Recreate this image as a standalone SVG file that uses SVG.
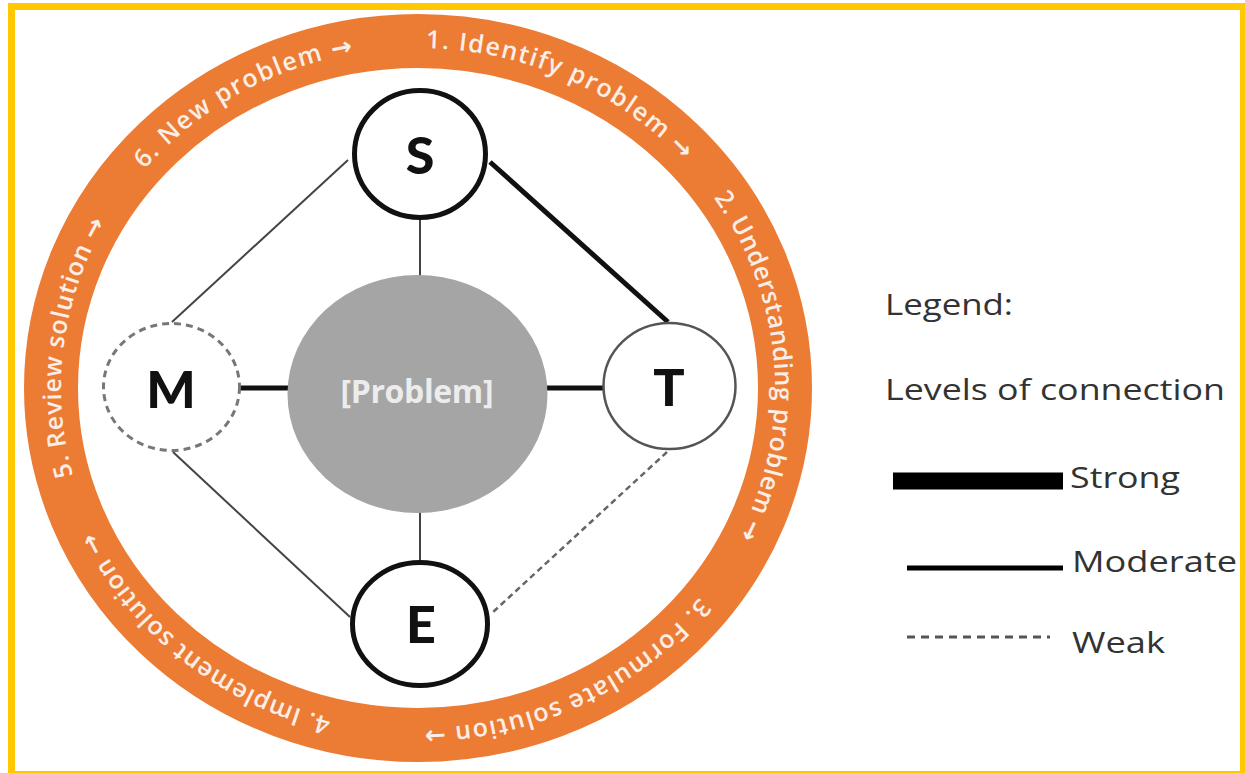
<svg xmlns="http://www.w3.org/2000/svg" xmlns:xlink="http://www.w3.org/1999/xlink" width="1245" height="773" viewBox="0 0 1245 773">
  <style>
    .ring-text { font-family: "Open Sans", "DejaVu Sans", sans-serif; font-weight: 600; font-size: 25px; fill: #fbeee6; }
    .node-letter { font-family: Lato, "Open Sans", sans-serif; font-weight: 900; font-size: 52px; fill: #111; text-anchor: middle; }
    .legend-text { font-family: "Open Sans", "Liberation Sans", sans-serif; font-size: 30px; fill: #333; }
    .strong { stroke: #111; stroke-width: 5; fill: none; }
    .moderate { stroke: #444; stroke-width: 2; fill: none; }
    .weak { stroke: #666; stroke-width: 2.5; stroke-dasharray: 6 4; fill: none; }
  </style>
  <defs>
    <!-- clockwise baseline for the cycle labels, starting at the top of the ring -->
    <path id="ringPath" d="M 418 48 A 357 340 0 1 1 418 728 A 357 340 0 1 1 418 48"/>
  </defs>

  <rect x="0" y="0" width="1245" height="773" fill="#fff"/>
  <rect x="11.5" y="6.5" width="1232" height="768" fill="none" stroke="#FFC800" stroke-width="7"/>

  <!-- problem-solving cycle ring -->
  <g id="cycle">
    <ellipse cx="418" cy="388" rx="367" ry="347" fill="none" stroke="#EC7C34" stroke-width="54"/>
    <text class="ring-text"><textPath xlink:href="#ringPath" href="#ringPath" startOffset="8" textLength="288" lengthAdjust="spacing">1. Identify problem →</textPath></text>
    <text class="ring-text"><textPath xlink:href="#ringPath" href="#ringPath" startOffset="344" textLength="358" lengthAdjust="spacing">2. Understanding problem →</textPath></text>
    <text class="ring-text"><textPath xlink:href="#ringPath" href="#ringPath" startOffset="774" textLength="314" lengthAdjust="spacing">3. Formulate solution →</textPath></text>
    <text class="ring-text"><textPath xlink:href="#ringPath" href="#ringPath" startOffset="1182" textLength="311" lengthAdjust="spacing">4. Implement solution →</textPath></text>
    <text class="ring-text"><textPath xlink:href="#ringPath" href="#ringPath" startOffset="1553" textLength="262" lengthAdjust="spacing">5. Review solution →</textPath></text>
    <text class="ring-text"><textPath xlink:href="#ringPath" href="#ringPath" startOffset="1881" textLength="243" lengthAdjust="spacing">6. New problem →</textPath></text>
  </g>

  <!-- connections between nodes -->
  <g id="connectors">
    <line class="moderate" x1="348" y1="160" x2="172" y2="322"/>
    <line class="strong" x1="490" y1="162" x2="668" y2="322"/>
    <line class="moderate" x1="420" y1="218" x2="420" y2="276"/>
    <line class="strong" x1="240" y1="388" x2="289" y2="388"/>
    <line class="strong" x1="547" y1="388" x2="603" y2="388"/>
    <line class="moderate" x1="173" y1="452" x2="350" y2="617"/>
    <line class="moderate" x1="420" y1="512" x2="420" y2="562"/>
    <line class="weak" x1="667" y1="452" x2="492" y2="613"/>
  </g>

  <g id="node-problem">
    <ellipse cx="417.5" cy="394" rx="130" ry="119" fill="#a5a5a5"/>
    <text x="417" y="403" font-family="Open Sans, sans-serif" font-weight="700" font-size="32" fill="#ececec" text-anchor="middle" textLength="153" lengthAdjust="spacing">[Problem]</text>
  </g>

  <g id="node-s">
    <ellipse cx="420" cy="154" rx="65.5" ry="63.5" fill="#fff" stroke="#111" stroke-width="5"/>
    <text class="node-letter" x="420" y="174">S</text>
  </g>

  <g id="node-m">
    <ellipse cx="171.5" cy="387" rx="68" ry="63.5" fill="#fff" stroke="#777" stroke-width="3" stroke-dasharray="7 5"/>
    <text class="node-letter" x="171" y="408">M</text>
  </g>

  <g id="node-t">
    <ellipse cx="669.5" cy="386" rx="66" ry="63" fill="#fff" stroke="#555" stroke-width="2.5"/>
    <text class="node-letter" x="669" y="406">T</text>
  </g>

  <g id="node-e">
    <ellipse cx="420" cy="624" rx="67.5" ry="61.5" fill="#fff" stroke="#111" stroke-width="5"/>
    <text class="node-letter" x="421" y="643">E</text>
  </g>

  <!-- legend -->
  <g id="legend">
    <text class="legend-text" x="885" y="315" textLength="128" lengthAdjust="spacingAndGlyphs">Legend:</text>
    <text class="legend-text" x="885" y="400" textLength="340" lengthAdjust="spacingAndGlyphs">Levels of connection</text>
    <line x1="893" y1="481" x2="1063" y2="481" stroke="#000" stroke-width="17"/>
    <text class="legend-text" x="1070" y="488" textLength="110" lengthAdjust="spacingAndGlyphs">Strong</text>
    <line x1="907" y1="568" x2="1063" y2="568" stroke="#000" stroke-width="5"/>
    <text class="legend-text" x="1072" y="572" textLength="165" lengthAdjust="spacingAndGlyphs">Moderate</text>
    <line x1="907" y1="637" x2="1050" y2="637" stroke="#555" stroke-width="3" stroke-dasharray="8 6"/>
    <text class="legend-text" x="1072" y="653" textLength="93" lengthAdjust="spacingAndGlyphs">Weak</text>
  </g>
</svg>
